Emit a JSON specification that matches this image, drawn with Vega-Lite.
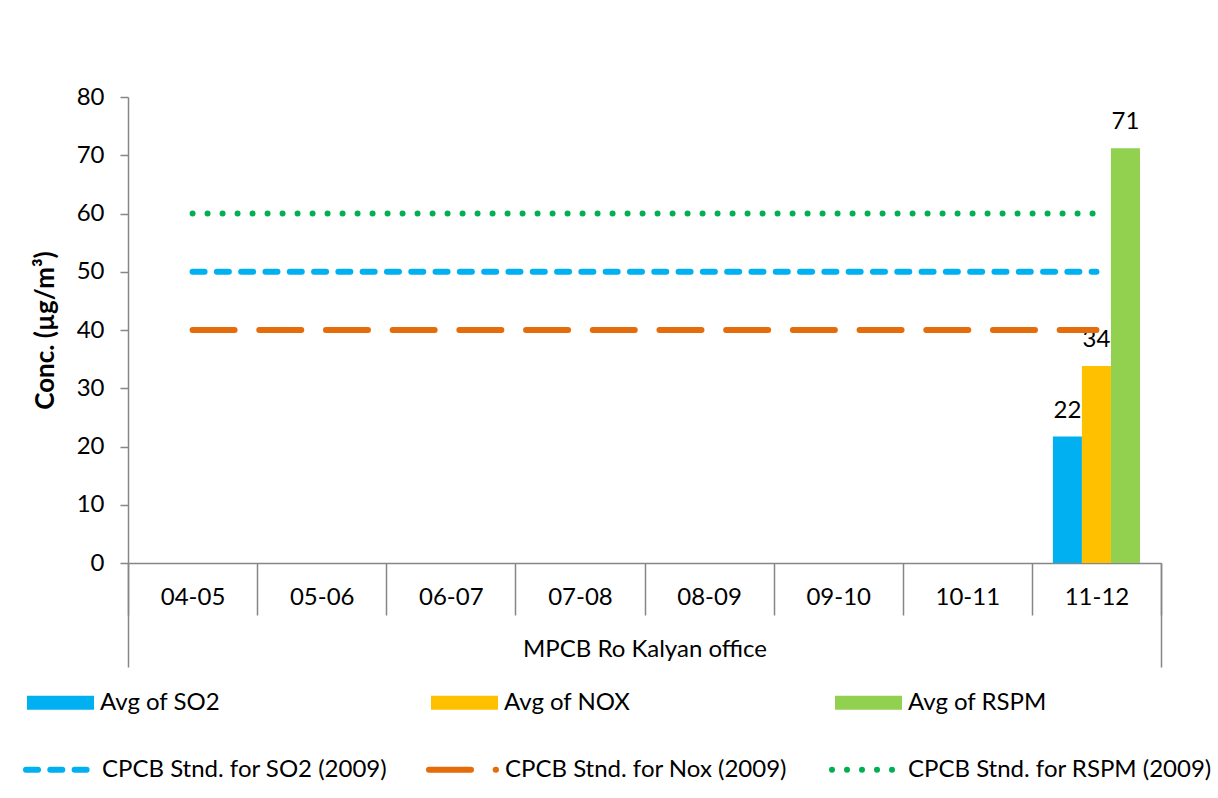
{
  "$schema": "https://vega.github.io/schema/vega-lite/v6.json",
  "width": 1033,
  "height": 466,
  "autosize": {"type": "none"},
  "padding": {"left": 128, "top": 97, "right": 57, "bottom": 235},
  "background": "white",
  "config": {
    "font": "Lato",
    "view": {"stroke": null},
    "axis": {
      "labelFont": "Lato",
      "titleFont": "Lato",
      "labelColor": "#000000",
      "titleColor": "#000000",
      "domainColor": "#868686",
      "tickColor": "#868686",
      "domainWidth": 1.5,
      "tickWidth": 1.5,
      "grid": false,
      "labelLimit": 0
    },
    "legend": {"labelFont": "Lato", "labelColor": "#000000", "labelLimit": 0}
  },
  "datasets": {
    "bars": [
      {"year": "11-12", "series": "Avg of SO2", "value": 21.7},
      {"year": "11-12", "series": "Avg of NOX", "value": 33.8},
      {"year": "11-12", "series": "Avg of RSPM", "value": 71.2}
    ],
    "lines": [
      {"year": "04-05", "series": "CPCB Stnd. for SO2 (2009)", "value": 50},
      {"year": "05-06", "series": "CPCB Stnd. for SO2 (2009)", "value": 50},
      {"year": "06-07", "series": "CPCB Stnd. for SO2 (2009)", "value": 50},
      {"year": "07-08", "series": "CPCB Stnd. for SO2 (2009)", "value": 50},
      {"year": "08-09", "series": "CPCB Stnd. for SO2 (2009)", "value": 50},
      {"year": "09-10", "series": "CPCB Stnd. for SO2 (2009)", "value": 50},
      {"year": "10-11", "series": "CPCB Stnd. for SO2 (2009)", "value": 50},
      {"year": "11-12", "series": "CPCB Stnd. for SO2 (2009)", "value": 50},
      {"year": "04-05", "series": "CPCB Stnd. for Nox (2009)", "value": 40},
      {"year": "05-06", "series": "CPCB Stnd. for Nox (2009)", "value": 40},
      {"year": "06-07", "series": "CPCB Stnd. for Nox (2009)", "value": 40},
      {"year": "07-08", "series": "CPCB Stnd. for Nox (2009)", "value": 40},
      {"year": "08-09", "series": "CPCB Stnd. for Nox (2009)", "value": 40},
      {"year": "09-10", "series": "CPCB Stnd. for Nox (2009)", "value": 40},
      {"year": "10-11", "series": "CPCB Stnd. for Nox (2009)", "value": 40},
      {"year": "11-12", "series": "CPCB Stnd. for Nox (2009)", "value": 40},
      {"year": "04-05", "series": "CPCB Stnd. for RSPM (2009)", "value": 60},
      {"year": "05-06", "series": "CPCB Stnd. for RSPM (2009)", "value": 60},
      {"year": "06-07", "series": "CPCB Stnd. for RSPM (2009)", "value": 60},
      {"year": "07-08", "series": "CPCB Stnd. for RSPM (2009)", "value": 60},
      {"year": "08-09", "series": "CPCB Stnd. for RSPM (2009)", "value": 60},
      {"year": "09-10", "series": "CPCB Stnd. for RSPM (2009)", "value": 60},
      {"year": "10-11", "series": "CPCB Stnd. for RSPM (2009)", "value": 60},
      {"year": "11-12", "series": "CPCB Stnd. for RSPM (2009)", "value": 60}
    ],
    "site": [{"site": "MPCB Ro Kalyan office"}]
  },
  "layer": [
    {
      "layer": [
        {
          "data": {"name": "bars"},
          "mark": {"type": "bar"},
          "encoding": {
            "x": {
              "field": "year",
              "type": "nominal",
              "scale": {
                "type": "band",
                "domain": ["04-05", "05-06", "06-07", "07-08", "08-09", "09-10", "10-11", "11-12"],
                "paddingInner": 0,
                "paddingOuter": 0
              },
              "axis": {
                "orient": "bottom",
                "title": null,
                "tickBand": "extent",
                "tickSize": 52,
                "labelFontSize": 24,
                "labelAngle": 0,
                "labelBaseline": "middle",
                "labelPadding": -18
              }
            },
            "xOffset": {
              "field": "series",
              "type": "nominal",
              "scale": {
                "domain": ["Avg of SO2", "Avg of NOX", "Avg of RSPM"],
                "paddingInner": 0,
                "paddingOuter": 0.724
              }
            },
            "y": {
              "field": "value",
              "type": "quantitative",
              "scale": {"domain": [0, 80], "nice": false},
              "axis": {
                "values": [0, 10, 20, 30, 40, 50, 60, 70, 80],
                "tickSize": 8,
                "labelPadding": 16,
                "labelFontSize": 24,
                "title": "Conc. (µg/m³)",
                "titleFontSize": 26,
                "titleFontWeight": "bold",
                "titlePadding": 18
              }
            },
            "fill": {
              "field": "series",
              "type": "nominal",
              "scale": {
                "domain": ["Avg of SO2", "Avg of NOX", "Avg of RSPM"],
                "range": ["#00B0F0", "#FFC000", "#92D050"]
              },
              "legend": {
                "orient": "none",
                "legendX": -101,
                "legendY": 572,
                "direction": "horizontal",
                "columns": 3,
                "title": null,
                "symbolType": "M-1,-0.21L1,-0.21L1,0.21L-1,0.21Z",
                "symbolSize": 4489,
                "symbolStrokeWidth": 0,
                "labelFontSize": 24,
                "labelOffset": 6,
                "columnPadding": 192,
                "gridAlign": "all",
                "padding": 0
              }
            }
          }
        },
        {
          "data": {"name": "bars"},
          "mark": {"type": "text", "baseline": "alphabetic", "dy": -19, "fontSize": 24, "color": "#000000"},
          "encoding": {
            "x": {"field": "year", "type": "nominal"},
            "xOffset": {"field": "series", "type": "nominal"},
            "y": {"field": "value", "type": "quantitative"},
            "text": {"field": "value", "type": "quantitative", "format": ".0f"}
          }
        },
        {
          "data": {"name": "lines"},
          "mark": {"type": "line", "strokeWidth": 6, "strokeCap": "round"},
          "encoding": {
            "x": {"field": "year", "type": "nominal"},
            "y": {"field": "value", "type": "quantitative"},
            "stroke": {
              "field": "series",
              "type": "nominal",
              "scale": {
                "domain": ["CPCB Stnd. for SO2 (2009)", "CPCB Stnd. for Nox (2009)", "CPCB Stnd. for RSPM (2009)"],
                "range": ["#00B0F0", "#E46C0A", "#00B050"]
              },
              "legend": {
                "orient": "none",
                "legendX": -105,
                "legendY": 636,
                "direction": "horizontal",
                "columns": 3,
                "title": null,
                "symbolType": "stroke",
                "symbolSize": 4489,
                "symbolStrokeWidth": 6,
                "labelFontSize": 24,
                "labelOffset": 6,
                "columnPadding": 11,
                "gridAlign": "all",
                "padding": 0,
                "encode": {"symbols": {"update": {"strokeCap": {"value": "round"}}}}
              }
            },
            "strokeDash": {
              "field": "series",
              "type": "nominal",
              "scale": {
                "domain": ["CPCB Stnd. for SO2 (2009)", "CPCB Stnd. for Nox (2009)", "CPCB Stnd. for RSPM (2009)"],
                "range": [[12, 12.3], [42, 24.7], [0, 15]]
              }
            }
          }
        }
      ]
    },
    {
      "data": {"name": "site"},
      "mark": {"type": "rule", "opacity": 0},
      "encoding": {
        "x": {
          "field": "site",
          "type": "nominal",
          "scale": {"type": "band", "paddingInner": 0, "paddingOuter": 0},
          "axis": {
            "orient": "bottom",
            "title": null,
            "tickBand": "extent",
            "tickSize": 104,
            "domain": false,
            "labelFontSize": 24,
            "labelAngle": 0,
            "labelBaseline": "middle",
            "labelPadding": -18
          }
        }
      }
    }
  ],
  "resolve": {"scale": {"x": "independent"}, "axis": {"x": "independent"}}
}
